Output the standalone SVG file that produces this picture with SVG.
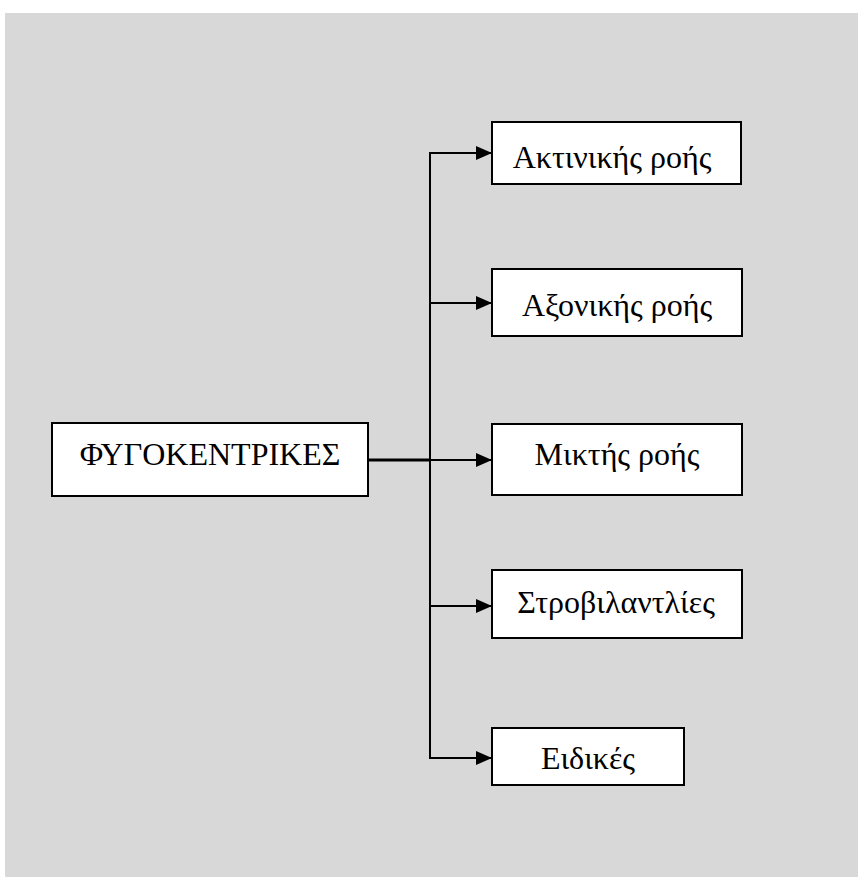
<svg xmlns="http://www.w3.org/2000/svg" width="858" height="877" viewBox="0 0 858 877">
<defs>
<style>
.box{fill:#ffffff;stroke:#000000;stroke-width:2}
.lbl{font-family:"Liberation Serif","Times New Roman",serif;font-size:32px;fill:#000000;text-anchor:middle}
.ln{fill:none;stroke:#000000;stroke-width:2}
</style>
<marker id="arr" markerUnits="userSpaceOnUse" markerWidth="16" markerHeight="15" refX="15" refY="7.5" orient="auto">
<path d="M0,0.5 L16,7.5 L0,14.5 Z" fill="#000000"/>
</marker>
</defs>
<rect x="5" y="13" width="853" height="864" fill="#d8d8d8"/>
<g id="connectors">
<line class="ln" x1="368" y1="460" x2="430" y2="460" style="stroke-width:3"/>
<path class="ln" d="M430,153 L430,758"/>
<line class="ln" x1="429" y1="153" x2="491" y2="153" marker-end="url(#arr)"/>
<line class="ln" x1="429" y1="303" x2="491" y2="303" marker-end="url(#arr)"/>
<line class="ln" x1="430" y1="460" x2="491" y2="460" marker-end="url(#arr)"/>
<line class="ln" x1="429" y1="606" x2="491" y2="606" marker-end="url(#arr)"/>
<line class="ln" x1="429" y1="758" x2="491" y2="758" marker-end="url(#arr)"/>
</g>
<g id="node-main">
<rect class="box" x="52" y="423" width="316" height="73"/>
<text class="lbl" x="210" y="465">ΦΥΓΟΚΕΝΤΡΙΚΕΣ</text>
</g>
<g id="node-radial">
<rect class="box" x="492" y="122" width="249" height="62"/>
<text class="lbl" x="612" y="168">Ακτινικής ροής</text>
</g>
<g id="node-axial">
<rect class="box" x="492" y="269" width="250" height="67"/>
<text class="lbl" x="617" y="316">Αξονικής ροής</text>
</g>
<g id="node-mixed">
<rect class="box" x="492" y="424" width="250" height="71"/>
<text class="lbl" x="617" y="465">Μικτής ροής</text>
</g>
<g id="node-turbine">
<rect class="box" x="492" y="570" width="250" height="68"/>
<text class="lbl" x="616" y="613">Στροβιλαντλίες</text>
</g>
<g id="node-special">
<rect class="box" x="492" y="728" width="192" height="57"/>
<text class="lbl" x="588" y="769">Ειδικές</text>
</g>
</svg>
